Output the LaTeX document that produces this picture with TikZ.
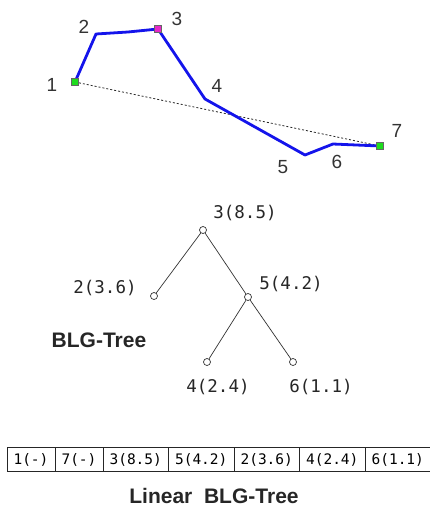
\documentclass[tikz,border=0pt]{standalone}
\usepackage{fontspec}
\setmainfont{Liberation Sans}
\newfontfamily\treefont{DejaVu Sans Mono}
\usepackage{tikz}
\usetikzlibrary{positioning}
\definecolor{lineblue}{RGB}{20, 20, 235}
\definecolor{endgreen}{RGB}{30, 220, 30}
\definecolor{toppink}{RGB}{230, 40, 200}

\begin{document}
\begin{tikzpicture}[x=1pt, y=-1pt,
    polyline/.style={draw=lineblue, line width=2.8pt, line join=round},
    marker/.style={rectangle, draw=black!60, line width=0.7pt, minimum size=7.5pt, inner sep=0pt},
    ptlabel/.style={font=\fontsize{19}{19}\selectfont, text=black!80},
    vertex/.style={circle, draw=black!80, fill=white, line width=0.7pt, minimum size=7pt, inner sep=0pt},
    treelabel/.style={font=\treefont\fontsize{17.5}{17.5}\selectfont, text=black!85},
    branch/.style={draw=black!80, line width=0.7pt},
    cell/.style={rectangle, draw=black!85, line width=0.8pt, outer sep=0pt, inner sep=0pt, minimum height=24.5pt, font=\treefont\fontsize{14.5}{14.5}\selectfont},
    shortcell/.style={cell, minimum width=48pt},
    longcell/.style={cell, minimum width=65.5pt},
    caption/.style={font=\bfseries\fontsize{21}{21}\selectfont, text=black!85}]

    \useasboundingbox (0,0) rectangle (430,509);

    % Line and its points
    \coordinate (p1) at (75,82);
    \coordinate (p2) at (96,34);
    \coordinate (p23) at (128,32);
    \coordinate (p3) at (158,29);
    \coordinate (p4) at (205,99);
    \coordinate (p5) at (305,155);
    \coordinate (p6) at (333,144);
    \coordinate (p7) at (380,146);

    \draw[black!85, line width=0.8pt, dash pattern=on 2pt off 2pt] (p1) -- (p7);
    \draw[polyline] (p1) -- (p2) -- (p23) -- (p3) -- (p4) -- (p5) -- (p6) -- (p7);

    \node[marker, fill=endgreen] (m1) at (p1) {};
    \node[marker, fill=toppink] (m3) at (p3) {};
    \node[marker, fill=endgreen] (m7) at (p7) {};

    \node[ptlabel] (l1) at (52,85) {1};
    \node[ptlabel] (l2) at (84,27) {2};
    \node[ptlabel] (l3) at (177,19) {3};
    \node[ptlabel] (l4) at (217,86) {4};
    \node[ptlabel] (l5) at (283,167) {5};
    \node[ptlabel] (l6) at (337,162) {6};
    \node[ptlabel] (l7) at (397,131) {7};

    % Tree
    \node[vertex] (t3) at (203,230) {};
    \node[vertex] (t2) at (154,296) {};
    \node[vertex] (t5) at (248,297) {};
    \node[vertex] (t4) at (207,362) {};
    \node[vertex] (t6) at (293,362) {};

    \draw[branch] (t3) -- (t2);
    \draw[branch] (t3) -- (t5);
    \draw[branch] (t5) -- (t4);
    \draw[branch] (t5) -- (t6);

    \node[treelabel] (n3) at (245,213) {3(8.5)};
    \node[treelabel] (n2) at (105,288) {2(3.6)};
    \node[treelabel] (n5) at (291,284) {5(4.2)};
    \node[treelabel] (n4) at (218,387) {4(2.4)};
    \node[treelabel] (n6) at (321,387) {6(1.1)};

    \node[caption] (treecap) at (99,340) {BLG-Tree};

    % Linear table
    \node[shortcell, anchor=west] (c1) at (7,459.5) {1(-)};
    \node[shortcell, right=0pt of c1] (c2) {7(-)};
    \node[longcell, right=0pt of c2] (c3) {3(8.5)};
    \node[longcell, right=0pt of c3] (c4) {5(4.2)};
    \node[longcell, right=0pt of c4] (c5) {2(3.6)};
    \node[longcell, right=0pt of c5] (c6) {4(2.4)};
    \node[longcell, right=0pt of c6] (c7) {6(1.1)};

    \node[caption] (linearcap) at (214,496) {Linear\ \ BLG-Tree};
\end{tikzpicture}
\end{document}
